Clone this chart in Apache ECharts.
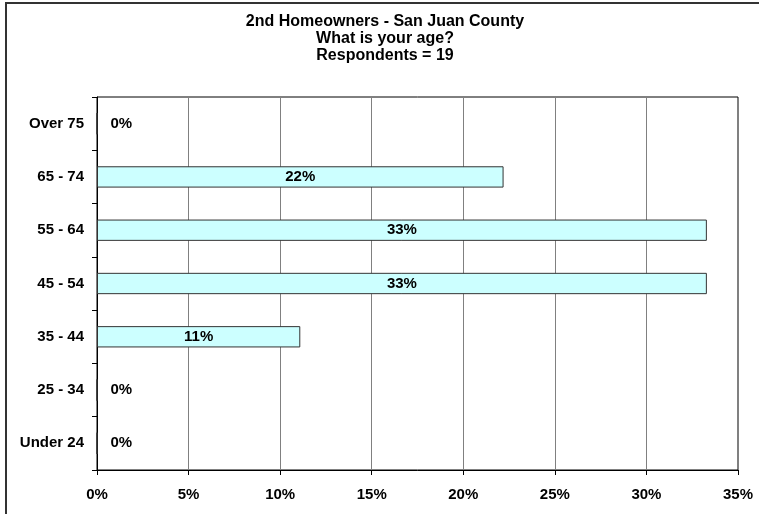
<!DOCTYPE html>
<html>
<head>
<meta charset="utf-8">
<script src="https://cdn.jsdelivr.net/npm/echarts@6/dist/echarts.min.js"></script>
<style>
    html, body { margin: 0; padding: 0; background: #fff; overflow: hidden; }
    #wrap { position: relative; width: 759px; height: 514px; overflow: hidden; }
    #frame { position: absolute; left: 5px; top: 2px; width: 900px; height: 700px;
             border-left: 2px solid #333; border-top: 2px solid #333; pointer-events: none; }
    #contain { position: absolute; left: 0; top: 0; width: 759px; height: 514px; }
</style>
</head>
<body>
<div id="wrap">
    <div id="contain"></div>
    <div id="frame"></div>
</div>
<script>
/*数据*/
var ageGroups = ["Under 24", "25 - 34", "35 - 44", "45 - 54", "55 - 64", "65 - 74", "Over 75"];
var percents = [0, 0, 11.1, 33.3, 33.3, 22.2, 0];
var titleLines = ["2nd Homeowners - San Juan County", "What is your age?", "Respondents = 19"];

var fontFamily = "Liberation Sans, Arial, sans-serif";

/*0值的标签放在柱子右侧*/
var barData = percents.map(function (v) {
    if (v === 0) {
        return { value: v, label: { position: "right", distance: 13 } };
    }
    return v;
});

var myChart = echarts.init(document.getElementById("contain"));
myChart.setOption({
    animation: false,
    title: {
        text: titleLines.join("\n"),
        left: 380,
        top: 8,
        textAlign: "center",
        textStyle: {
            fontFamily: fontFamily,
            fontWeight: "bold",
            fontSize: 16,
            lineHeight: 17,
            color: "#000"
        }
    },
    grid: {
        left: 97,
        right: 21,
        top: 97,
        bottom: 44,
        show: true,
        borderColor: "#000",
        borderWidth: 1
    },
    xAxis: {
        type: "value",
        min: 0,
        max: 35,
        interval: 5,
        axisLine: { show: true, lineStyle: { color: "#000", width: 1 } },
        axisTick: { show: true, length: 5, lineStyle: { color: "#000" } },
        splitLine: { show: true, lineStyle: { color: "#808080", width: 1 } },
        axisLabel: {
            formatter: "{value}%",
            margin: 17,
            fontFamily: fontFamily,
            fontWeight: "bold",
            fontSize: 15,
            color: "#000"
        }
    },
    yAxis: {
        type: "category",
        data: ageGroups,
        axisLine: { show: true, lineStyle: { color: "#000", width: 1 } },
        axisTick: { show: true, length: 5, lineStyle: { color: "#000" } },
        splitLine: { show: false },
        axisLabel: {
            margin: 13,
            fontFamily: fontFamily,
            fontWeight: "bold",
            fontSize: 15,
            color: "#000"
        }
    },
    series: [{
        type: "bar",
        data: barData,
        barWidth: "40%",
        itemStyle: {
            color: "#CCFFFF",
            borderColor: "#333",
            borderWidth: 1
        },
        label: {
            show: true,
            position: "inside",
            formatter: function (p) {
                return Math.round(p.value) + "%";
            },
            fontFamily: fontFamily,
            fontWeight: "bold",
            fontSize: 15,
            color: "#000"
        }
    }]
});
</script>
</body>
</html>
